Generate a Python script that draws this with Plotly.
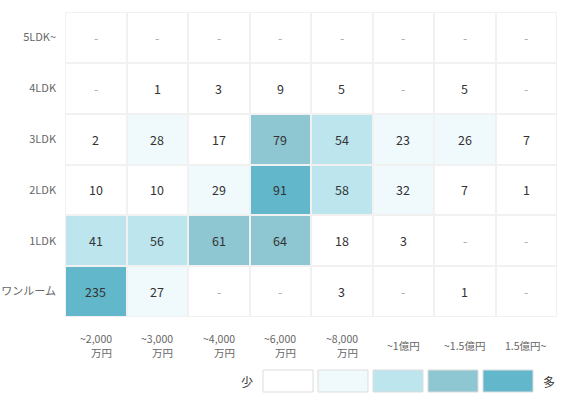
import plotly.graph_objects as go

# ---- data ----
price_bins = ["~2,000万円", "~3,000万円", "~4,000万円", "~6,000万円", "~8,000万円", "~1億円", "~1.5億円", "1.5億円~"]
price_labels = ["~2,000<br>万円", "~3,000<br>万円", "~4,000<br>万円", "~6,000<br>万円", "~8,000<br>万円", "~1億円", "~1.5億円", "1.5億円~"]
layouts = ["5LDK~", "4LDK", "3LDK", "2LDK", "1LDK", "ワンルーム"]
counts_5ldk = [0, 0, 0, 0, 0, 0, 0, 0]
counts_4ldk = [0, 1, 3, 9, 5, 0, 5, 0]
counts_3ldk = [2, 28, 17, 79, 54, 23, 26, 7]
counts_2ldk = [10, 10, 29, 91, 58, 32, 7, 1]
counts_1ldk = [41, 56, 61, 64, 18, 3, 0, 0]
counts_1r = [235, 27, 0, 0, 3, 0, 1, 0]
level_thresholds = [20, 40, 60, 80]
level_colors = ["#ffffff", "#f0fafd", "#bce5ee", "#8ec6d2", "#62b7ca"]
legend_low, legend_high = "少", "多"

counts = [counts_5ldk, counts_4ldk, counts_3ldk, counts_2ldk, counts_1ldk, counts_1r]


def level(v):
    return sum(1 for t in level_thresholds if v >= t)


z = [[level(v) for v in row] for row in counts]
n = len(level_colors)
colorscale = []
for i, c in enumerate(level_colors):
    colorscale.append([i / n, c])
    colorscale.append([(i + 1) / n, c])
colorscale[-1][0] = 1.0

FONT = "Noto Sans CJK JP, Noto Sans, sans-serif"

fig = go.Figure(go.Heatmap(
    z=z, x=price_bins, y=layouts,
    colorscale=colorscale, zmin=-0.5, zmax=n - 0.5,
    showscale=False, xgap=2, ygap=2, hoverinfo="skip",
))

annotations = []
for r, row in enumerate(counts):
    for c, v in enumerate(row):
        annotations.append(dict(
            x=price_bins[c], y=layouts[r], xref="x", yref="y",
            text=str(v) if v else "-", showarrow=False,
            xanchor="center", yanchor="middle",
            font=dict(family=FONT, size=12.5, color="#333333" if v else "#aaaaaa"),
        ))

# x axis labels (right-aligned two-line labels)
for c, lab in enumerate(price_labels):
    annotations.append(dict(
        x=price_bins[c], y=-0.092, xref="x", yref="paper",
        text=lab, showarrow=False, align="right",
        xanchor="center", yanchor="middle",
        font=dict(family=FONT, size=10.5, color="#666666"),
    ))

# legend
W, H = 492.0, 305.0
L, T = 65.0, 12.0
def px_x(p):
    return (p - L) / W
def px_y(p):
    return (T + H - p) / H

shapes = []
box_w, box_gap, box_x0 = 50, 5, 263
for i, col in enumerate(level_colors):
    x0 = box_x0 + i * (box_w + box_gap)
    shapes.append(dict(
        type="rect", xref="paper", yref="paper",
        x0=px_x(x0), x1=px_x(x0 + box_w), y0=px_y(392), y1=px_y(370),
        fillcolor=col, line=dict(color="#dddddd", width=1),
    ))
annotations.append(dict(x=px_x(247), y=px_y(381), xref="paper", yref="paper",
                        text=legend_low, showarrow=False,
                        xanchor="center", yanchor="middle",
                        font=dict(family=FONT, size=12, color="#333333")))
annotations.append(dict(x=px_x(549), y=px_y(381), xref="paper", yref="paper",
                        text=legend_high, showarrow=False,
                        xanchor="center", yanchor="middle",
                        font=dict(family=FONT, size=12, color="#333333")))

fig.update_layout(
    width=578, height=405,
    margin=dict(l=65, r=21, t=12, b=88),
    paper_bgcolor="white", plot_bgcolor="#f1f1f1",
    xaxis=dict(showticklabels=False, showgrid=False, zeroline=False, ticks="",
               fixedrange=True, automargin=False),
    yaxis=dict(autorange="reversed", showgrid=False, zeroline=False, ticks="",
               ticklabelstandoff=8, automargin=False,
               tickfont=dict(family=FONT, size=11, color="#666666"), fixedrange=True),
    annotations=annotations, shapes=shapes,
    showlegend=False,
)

fig.write_html("out.html")
